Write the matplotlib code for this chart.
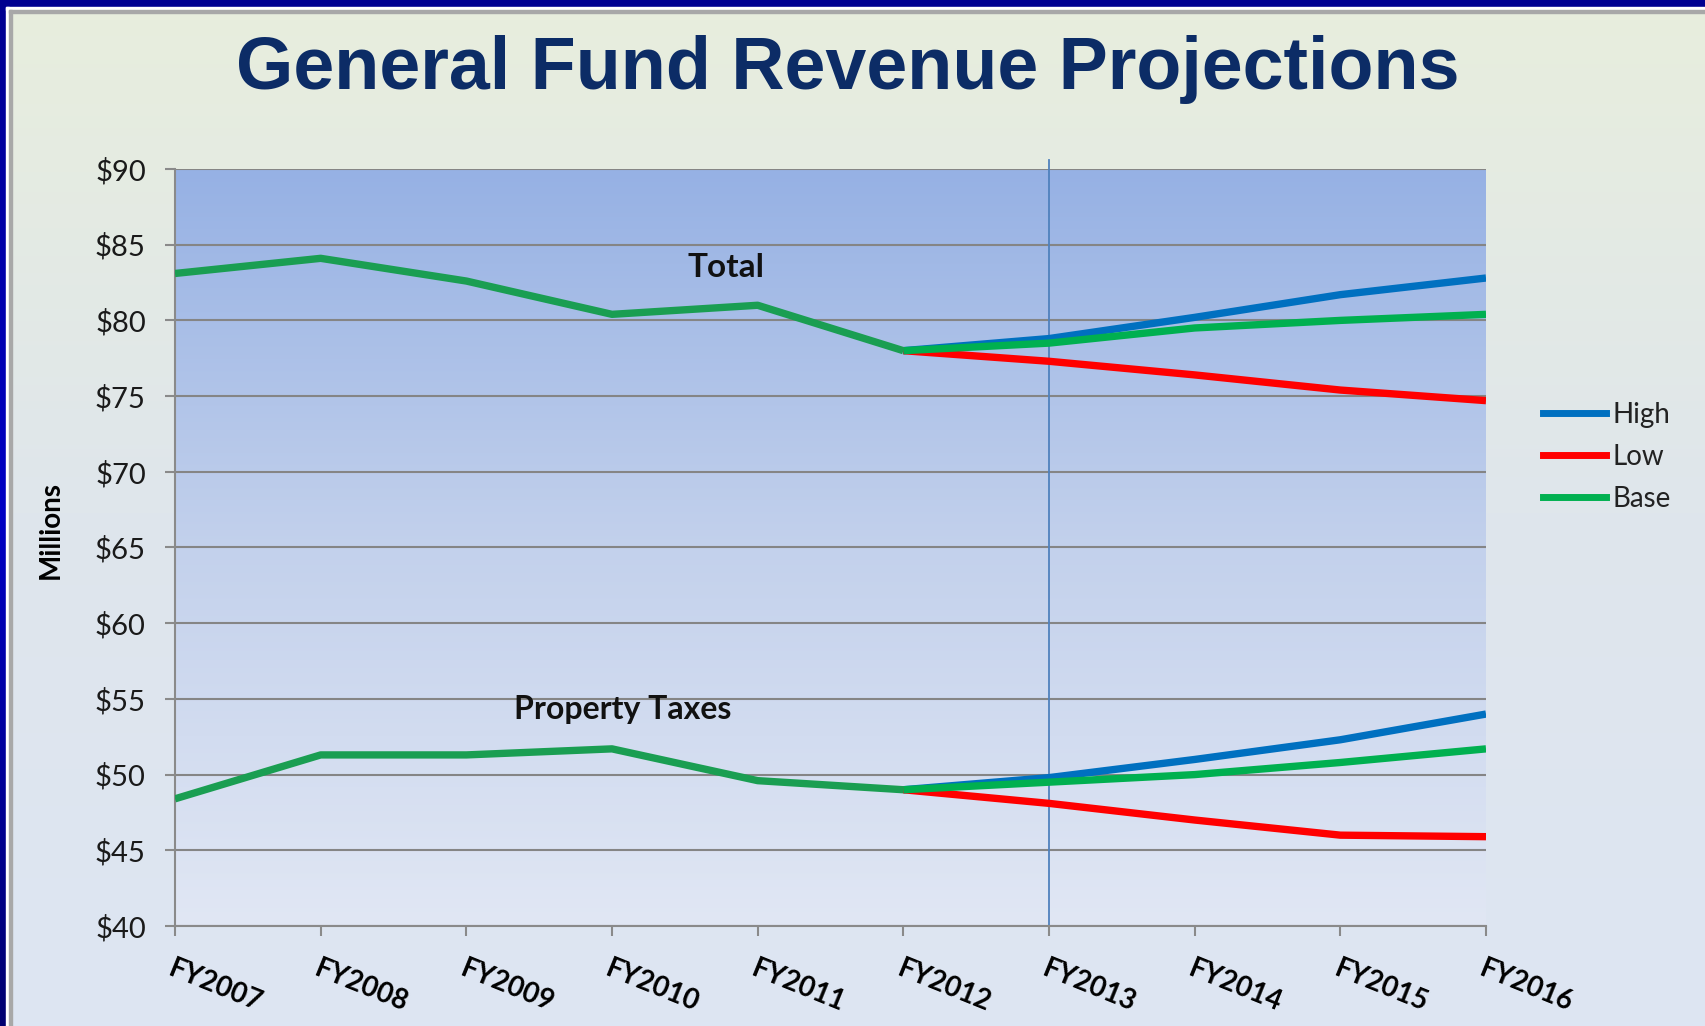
import numpy as np
import matplotlib
matplotlib.use('Agg')
import matplotlib.pyplot as plt
from matplotlib.colors import LinearSegmentedColormap
from matplotlib.lines import Line2D

# fiscal years on the x axis
years = ['FY2007', 'FY2008', 'FY2009', 'FY2010', 'FY2011',
         'FY2012', 'FY2013', 'FY2014', 'FY2015', 'FY2016']

# actuals FY2007-FY2012, projections FY2012-FY2016 (millions)
total_hist = [83.1, 84.1, 82.6, 80.4, 81.0, 78.0]
total_high = [78.0, 78.8, 80.2, 81.7, 82.8]
total_low = [78.0, 77.3, 76.4, 75.4, 74.7]
total_base = [78.0, 78.5, 79.5, 80.0, 80.4]

prop_hist = [48.4, 51.3, 51.3, 51.7, 49.6, 49.0]
prop_high = [49.0, 49.8, 51.0, 52.3, 54.0]
prop_low = [49.0, 48.1, 47.0, 46.0, 45.9]
prop_base = [49.0, 49.5, 50.0, 50.8, 51.7]

y_ticks = [40, 45, 50, 55, 60, 65, 70, 75, 80, 85, 90]

W, H = 1705, 1026
fig = plt.figure(figsize=(W / 100, H / 100), dpi=100)

# ---------------- slide background ----------------
bg = fig.add_axes([0, 0, 1, 1])
bg.axis('off')
bg_cmap = LinearSegmentedColormap.from_list('bg', ['#e8eedd', '#dfe6ec', '#dde5f3'])
bg.imshow(np.linspace(0, 1, 256).reshape(-1, 1), cmap=bg_cmap, aspect='auto',
          extent=[0, W, H, 0], zorder=0)
# blue frame on top and left
bg.add_patch(plt.Rectangle((0, 0), W, 7, color='#000090', zorder=2))
side_cmap = LinearSegmentedColormap.from_list('side', ['#000090', '#0000c4', '#000070'])
bg.imshow(np.linspace(0, 1, 256).reshape(-1, 1), cmap=side_cmap, aspect='auto',
          extent=[0, 6, H, 0], zorder=2)
bg.add_patch(plt.Rectangle((6, 7), W, 3, color='white', zorder=2))
bg.add_patch(plt.Rectangle((6, 7), 3, H, color='white', zorder=2))
bg.add_patch(plt.Rectangle((9, 10), W, 3, color='#a8a8a8', zorder=2))
bg.add_patch(plt.Rectangle((9, 10), 3, H, color='#a8a8a8', zorder=2))
bg.set_xlim(0, W)
bg.set_ylim(H, 0)

fig.text(848 / W, 1 - 69 / H, 'General Fund Revenue Projections',
         ha='center', va='center', fontsize=53, fontweight='bold',
         family='Liberation Sans', color='#0c2c66')

# ---------------- chart ----------------
ax = fig.add_axes([175 / W, 1 - 926 / H, (1486 - 175) / W, (926 - 169) / H])
ax.patch.set_alpha(0)
plot_cmap = LinearSegmentedColormap.from_list('plot', ['#96b1e4', '#c3d1ec', '#e1e7f4'])
ax.imshow(np.linspace(0, 1, 256).reshape(-1, 1), cmap=plot_cmap, aspect='auto',
          extent=[0, 1, 0, 1], transform=ax.transAxes, zorder=0)

x_hist = np.arange(len(total_hist))
x_proj = np.arange(len(total_hist) - 1, len(years))

c_high, c_low, c_base = '#0070c0', '#ff0000', '#00b050'
lw = 5.3
for hi, lo, ba, hist in [(total_high, total_low, total_base, total_hist),
                         (prop_high, prop_low, prop_base, prop_hist)]:
    ax.plot(x_proj, hi, color=c_high, lw=lw, zorder=3, solid_capstyle='butt')
    ax.plot(x_proj, lo, color=c_low, lw=lw, zorder=3, solid_capstyle='butt')
    ax.plot(x_proj, ba, color=c_base, lw=lw, zorder=4, solid_capstyle='butt')
    ax.plot(x_hist, hist, color='#1a9e52', lw=lw, zorder=5, solid_capstyle='butt')

# marker between actuals and projections
ax.plot([6, 6], [40, 90.6], color='#4f81bd', lw=1.3, zorder=2, clip_on=False)

ax.set_xlim(0, len(years) - 1)
ax.set_ylim(40, 90)
ax.set_yticks(y_ticks)
ax.set_yticklabels(['${}'.format(v) for v in y_ticks])
ax.set_xticks(range(len(years)))
ax.set_xticklabels(years, rotation=-22, ha='left', va='top', rotation_mode='anchor')

ax.grid(axis='y', color='#858585', lw=1.5, zorder=1)
ax.set_axisbelow(True)
for s in ['top', 'right']:
    ax.spines[s].set_visible(False)
for s in ['left', 'bottom']:
    ax.spines[s].set_color('#8a8a8a')
    ax.spines[s].set_linewidth(1.5)
ax.tick_params(axis='both', direction='out', length=7, width=1.5, color='#8a8a8a')
ax.tick_params(axis='y', pad=14, labelsize=21)
ax.tick_params(axis='x', pad=14, labelsize=20)
for lab in ax.get_yticklabels():
    lab.set_family('Lato')
    lab.set_color('#1a1a1a')
for lab in ax.get_xticklabels():
    lab.set_family('Lato')
    lab.set_fontweight('bold')

ax.text(3.78, 83.5, 'Total', ha='center', va='center', fontsize=24,
        family='Lato', fontweight='bold', color='#111111')
ax.text(3.07, 54.3, 'Property Taxes', ha='center', va='center', fontsize=23,
        family='Lato', fontweight='bold', color='#111111')

fig.text(51 / W, 1 - 530 / H, 'Millions', rotation=90, ha='center', va='center',
         fontsize=20, fontweight='bold', family='Lato', color='black')

handles = [Line2D([], [], color=c_high, lw=5),
           Line2D([], [], color=c_low, lw=5),
           Line2D([], [], color=c_base, lw=5)]
leg = fig.legend(handles, ['High', 'Low', 'Base'], loc='center left',
                 bbox_to_anchor=(1518 / W, 1 - 457 / H), frameon=False,
                 prop={'family': 'Lato', 'size': 20}, handlelength=2.25,
                 handletextpad=0.25, labelspacing=0.58)
for t in leg.get_texts():
    t.set_color('#222222')

fig.savefig('out.png', dpi=100)
